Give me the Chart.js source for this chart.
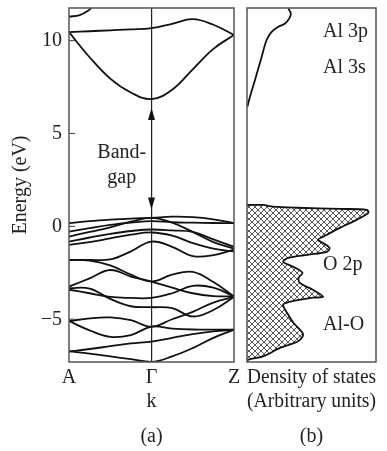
<!DOCTYPE html>
<html>
<head>
<meta charset="utf-8">
<script src="https://cdn.jsdelivr.net/npm/chart.js@4.4.1/dist/chart.umd.min.js"></script>
<style>
  body { margin: 0; background: #fff; width: 387px; height: 451px; position: relative; overflow: hidden; }
  canvas { position: absolute; top: 0; }
  #bands { left: 0; }
  #dos { left: 240px; }
</style>
</head>
<body>
<canvas id="bands" width="246" height="451"></canvas>
<canvas id="dos" width="147" height="451"></canvas>
<script>
// ---- data ----
const kGrid = [0, 0.25, 0.5, 0.75, 1, 1.25, 1.5, 1.75, 2];   // A .. Γ .. Z
const kTicks = [0, 1, 2];
const kLabels = ['A', 'Γ', 'Z'];
const energyTicks = [-5, 0, 5, 10];
const energyMin = -7.3, energyMax = 11.75;

// conduction bands (eV)
const cb1 = [10.45, 9.1, 7.95, 7.2, 6.85, 7.35, 8.45, 9.55, 10.3];
const cb2 = [10.45, 10.5, 10.55, 10.6, 10.67, 10.9, 11.15, 10.85, 10.3];
const cb3k = [0, 0.13, 0.23, 0.3];
const cb3 = [11.28, 11.37, 11.6, 11.9];

// valence bands (eV)
const vb1 = [0.17, 0.28, 0.36, 0.42, 0.46, 0.52, 0.5, 0.38, 0.17];
const vb2 = [-0.28, -0.1, 0.08, 0.2, 0.28, 0.22, 0.2, 0.18, 0.17];
const vb3 = [-0.55, -0.3, -0.05, 0.25, 0.46, 0.2, -0.3, -0.85, -1.2];
const vb4 = [-0.82, -0.6, -0.4, -0.25, -0.17, -0.22, -0.3, -0.7, -1.1];
const vb5 = [-1.0, -0.85, -0.65, -0.45, -0.33, -0.5, -0.9, -1.2, -1.35];
const vb6 = [-1.8, -1.8, -1.78, -1.35, -0.82, -1.1, -1.6, -1.55, -1.25];
const vb7 = [-1.8, -1.85, -2.1, -2.6, -2.97, -2.6, -2.45, -3.0, -3.77];
const vb8 = [-3.24, -2.8, -2.35, -2.7, -2.97, -3.3, -3.6, -3.75, -3.77];
const vb9 = [-3.32, -3.35, -3.9, -4.3, -4.35, -4.4, -4.85, -4.5, -3.8];
const vb10 = [-3.41, -3.6, -3.8, -3.85, -3.85, -3.6, -3.2, -3.3, -3.77];
const vb11 = [-5.1, -4.95, -4.9, -5.05, -5.4, -5.0, -4.6, -4.1, -3.8];
const vb12 = [-5.1, -5.6, -5.95, -5.85, -5.4, -5.5, -5.55, -5.56, -5.56];
const vb13 = [-6.73, -6.6, -6.45, -6.3, -6.2, -6.0, -5.8, -5.65, -5.56];
const vb14 = [-6.73, -6.85, -7.0, -7.15, -7.3, -7.0, -6.55, -6.0, -5.56];

const gapArrow = [0.9, 6.37];   // arrow ends at Γ (eV)

// density of states (arbitrary units 0..1)
const dosCbX = [0.003, 0.023, 0.062, 0.114, 0.152, 0.191, 0.243, 0.295, 0.328, 0.339, 0.32];
const dosCbE = [6.44, 6.98, 7.88, 9.13, 10.03, 10.47, 10.74, 10.92, 11.19, 11.46, 11.73];
const dosVbX = [0, 0.124, 0.2, 0.39, 0.72, 0.93, 0.94, 0.85, 0.72, 0.59, 0.55, 0.59, 0.64, 0.62, 0.47, 0.32, 0.28, 0.36, 0.43, 0.40, 0.41, 0.51, 0.59, 0.51, 0.33, 0.28, 0.32, 0.36, 0.43, 0.43, 0.39, 0.26, 0.124, 0.01, 0];
const dosVbE = [1.15, 1.15, 1.06, 1.0, 0.94, 0.89, 0.72, 0.35, -0.08, -0.56, -0.73, -0.89, -1.16, -1.37, -1.53, -1.7, -1.91, -2.18, -2.5, -2.77, -3.04, -3.41, -3.79, -3.84, -4.06, -4.22, -4.76, -5.19, -5.73, -5.94, -6.21, -6.53, -7.0, -7.18, -7.3];

const dosLabels = ['Al 3p', 'Al 3s', 'O 2p', 'Al-O'];
const dosLabelE = [10.46, 8.52, -2.07, -5.3];

// ---- drawing ----
Chart.defaults.font.family = '"Liberation Serif", "DejaVu Serif", serif';
Chart.defaults.font.size = 20;
Chart.defaults.color = '#222';
Chart.defaults.animation = false;

const lineStyle = { borderColor: '#111', borderWidth: 1.8, pointRadius: 0, showLine: true, tension: 0.4, fill: false };
const allBands = [cb1, cb2, vb1, vb2, vb3, vb4, vb5, vb6, vb7, vb8, vb9, vb10, vb11, vb12, vb13, vb14];
const bandSets = allBands.map(b => ({ ...lineStyle, data: b.map((v, i) => ({ x: kGrid[i], y: v })) }));
bandSets.push({ ...lineStyle, data: cb3.map((v, i) => ({ x: cb3k[i], y: v })) });

const frame = {
  id: 'frame',
  afterDatasetsDraw(chart) {
    const { ctx, chartArea: a } = chart;
    ctx.save();
    ctx.strokeStyle = '#555';
    ctx.lineWidth = 1.5;
    ctx.strokeRect(a.left, a.top, a.right - a.left, a.bottom - a.top);
    ctx.font = '20px "Liberation Serif", serif';
    ctx.fillStyle = '#222';
    ctx.textAlign = 'center';
    ctx.textBaseline = 'middle';
    ctx.fillText(chart.options.plugins.frame.tag, (a.left + a.right) / 2, a.bottom + 75);
    ctx.restore();
  }
};

const bandExtras = {
  id: 'bandExtras',
  afterDatasetsDraw(chart) {
    const { ctx, chartArea: a, scales: { x, y } } = chart;
    ctx.save();
    ctx.strokeStyle = '#555';
    ctx.lineWidth = 1.2;
    energyTicks.forEach(v => {
      const py = y.getPixelForValue(v);
      ctx.beginPath(); ctx.moveTo(a.left, py); ctx.lineTo(a.left + 6, py); ctx.stroke();
    });
    const gx = x.getPixelForValue(1);
    const yLo = y.getPixelForValue(gapArrow[0]);
    const yHi = y.getPixelForValue(gapArrow[1]);
    ctx.fillStyle = '#111';
    ctx.beginPath(); ctx.moveTo(gx, yHi); ctx.lineTo(gx - 3.5, yHi + 12); ctx.lineTo(gx + 3.5, yHi + 12); ctx.closePath(); ctx.fill();
    ctx.beginPath(); ctx.moveTo(gx, yLo); ctx.lineTo(gx - 3.5, yLo - 12); ctx.lineTo(gx + 3.5, yLo - 12); ctx.closePath(); ctx.fill();
    ctx.font = '20px "Liberation Serif", serif';
    ctx.fillStyle = '#222';
    ctx.textAlign = 'center';
    ctx.textBaseline = 'middle';
    ctx.fillText('Band-', x.getPixelForValue(0.64), y.getPixelForValue(3.95));
    ctx.fillText('gap', x.getPixelForValue(0.64), y.getPixelForValue(2.6));
    ctx.restore();
  }
};

const dosText = {
  id: 'dosText',
  afterDatasetsDraw(chart) {
    const { ctx, scales: { x, y } } = chart;
    ctx.save();
    ctx.font = '20px "Liberation Serif", serif';
    ctx.fillStyle = '#222';
    ctx.textAlign = 'left';
    ctx.textBaseline = 'middle';
    dosLabels.forEach((t, i) => ctx.fillText(t, x.getPixelForValue(0.59), y.getPixelForValue(dosLabelE[i])));
    ctx.restore();
  }
};

new Chart(document.getElementById('bands'), {
  type: 'scatter',
  data: { datasets: bandSets },
  options: {
    responsive: false,
    layout: { padding: { left: 0, right: 12, top: 8, bottom: 0 } },
    plugins: { legend: { display: false }, tooltip: { enabled: false }, frame: { tag: '(a)' } },
    scales: {
      x: {
        type: 'linear', min: 0, max: 2,
        afterFit: s => { s.height = 89; s.paddingLeft = 0; s.paddingRight = 0; },
        afterBuildTicks: s => { s.ticks = kTicks.map(v => ({ value: v })); },
        ticks: { padding: 4, maxRotation: 0, autoSkip: false, callback: (v, i) => kLabels[i] },
        grid: { drawTicks: false, lineWidth: 1.2, color: c => (c.tick && c.tick.value === 1) ? '#222' : 'rgba(0,0,0,0)' },
        border: { display: false },
        title: { display: true, text: 'k', padding: { top: 0, bottom: 37 } }
      },
      y: {
        type: 'linear', min: energyMin, max: energyMax,
        afterFit: s => { s.width = 69; s.paddingTop = 0; s.paddingBottom = 0; },
        afterBuildTicks: s => { s.ticks = energyTicks.map(v => ({ value: v })); },
        ticks: { padding: 7, callback: v => v < 0 ? '\u2212' + Math.abs(v) : String(v) },
        grid: { display: false, drawTicks: false },
        border: { display: false },
        title: { display: true, text: 'Energy (eV)', padding: { top: 9, bottom: 0 } }
      }
    }
  },
  plugins: [frame, bandExtras]
});

// cross-hatch pattern for the filled valence DOS
const tile = document.createElement('canvas');
tile.width = 6; tile.height = 6;
const tctx = tile.getContext('2d');
tctx.strokeStyle = '#444';
tctx.lineWidth = 0.9;
tctx.beginPath();
tctx.moveTo(0, 0); tctx.lineTo(6, 6);
tctx.moveTo(6, 0); tctx.lineTo(0, 6);
tctx.stroke();
const dosCanvas = document.getElementById('dos');
const hatch = dosCanvas.getContext('2d').createPattern(tile, 'repeat');

new Chart(dosCanvas, {
  type: 'scatter',
  data: {
    datasets: [
      { ...lineStyle, tension: 0.35, data: dosCbX.map((v, i) => ({ x: v, y: dosCbE[i] })) },
      { ...lineStyle, tension: 0.3, fill: 'shape', backgroundColor: hatch,
        data: dosVbX.map((v, i) => ({ x: v, y: dosVbE[i] })) }
    ]
  },
  options: {
    responsive: false,
    layout: { padding: { left: 7, right: 11, top: 8, bottom: 0 } },
    plugins: { legend: { display: false }, tooltip: { enabled: false }, frame: { tag: '(b)' } },
    scales: {
      x: {
        type: 'linear', min: 0, max: 1,
        afterFit: s => { s.height = 89; },
        ticks: { display: false },
        grid: { display: false },
        border: { display: false },
        title: { display: true, text: ['Density of states', '(Arbitrary units)'], padding: { top: 0, bottom: 37 } }
      },
      y: { type: 'linear', min: energyMin, max: energyMax, display: false }
    }
  },
  plugins: [frame, dosText]
});
</script>
</body>
</html>
